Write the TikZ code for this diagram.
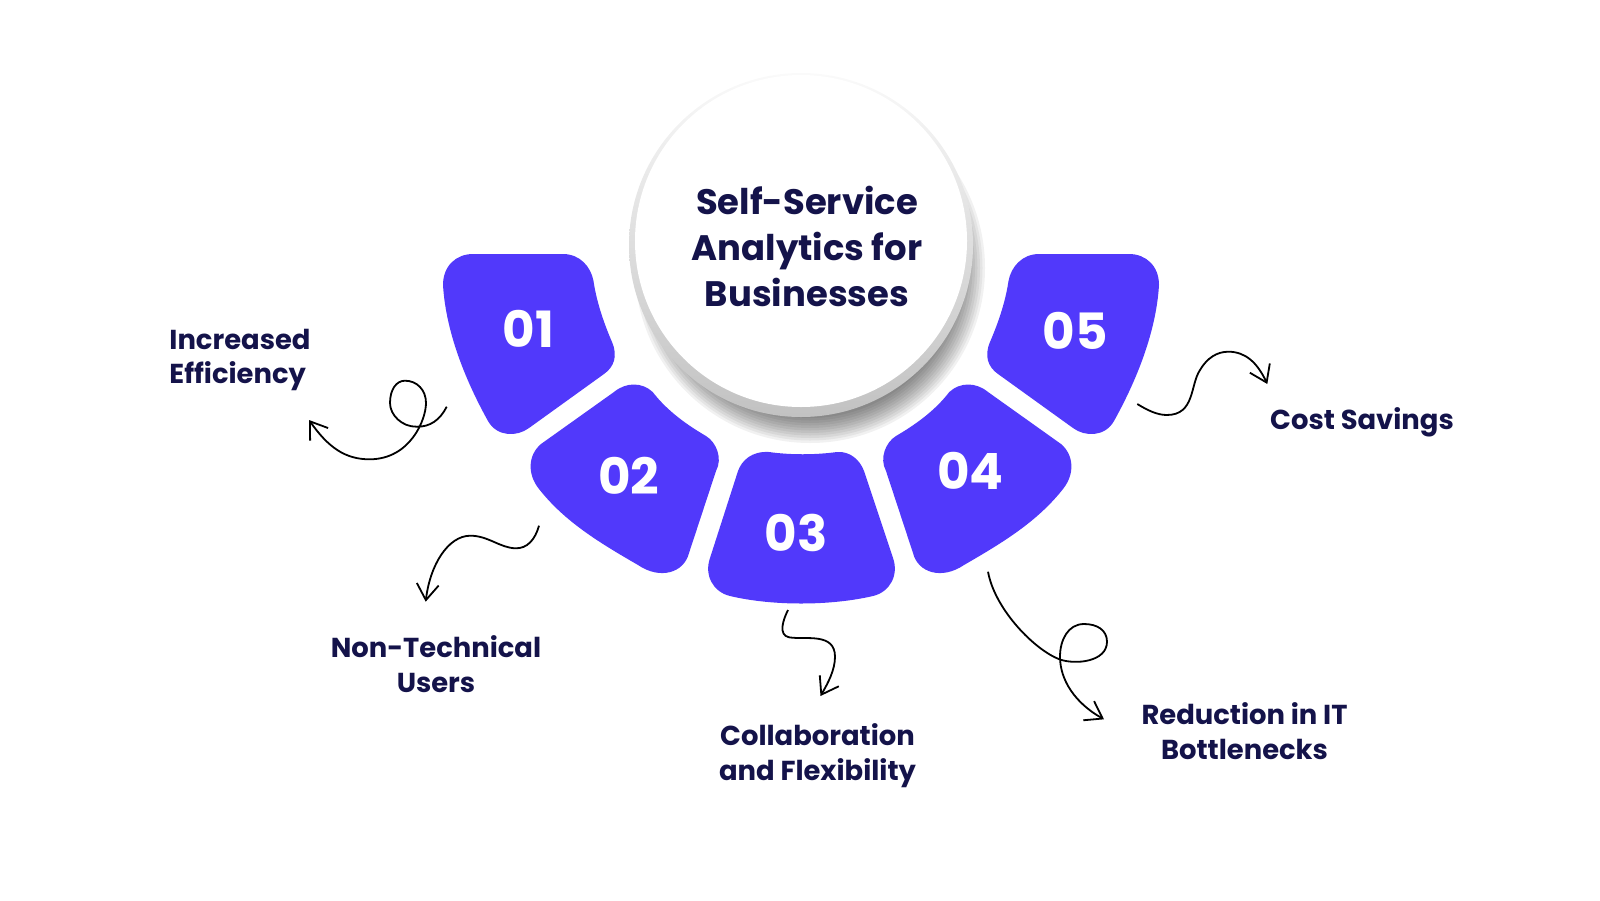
\documentclass[tikz,border=0pt]{standalone}
\usepackage{fontspec}
\setmainfont{Poppins}
\usepackage{xcolor}
\usetikzlibrary{arrows.meta}
\definecolor{blobblue}{HTML}{5139FB}
\definecolor{navy}{HTML}{14134A}
\tikzset{
	blob/.style={fill=blobblue},
	numlabel/.style={text=white,font=\fontsize{25}{30}\selectfont\bfseries,inner sep=0pt},
	hubtitle/.style={text=navy,font=\fontsize{17.7}{23}\selectfont\bfseries,align=center,inner sep=0pt},
	sidelabel/.style={text=navy,font=\fontsize{13.7}{17.4}\selectfont\bfseries,inner sep=0pt},
	scribble/.style={draw=black,line width=0.9pt,-{Straight Barb[length=8pt,width=11pt]}}
}
\newcommand{\blobone}{(443,285) .. controls (443,266) and (456,254) .. (473,254)
	-- (563,254) .. controls (580,254) and (591,267) .. (593.5,281)
	.. controls (597,305) and (606,328) .. (612,342)
	.. controls (618,356) and (614,367) .. (604,374)
	-- (529,428) .. controls (517,437) and (497,437) .. (488,421)
	.. controls (468,385) and (446,335) .. (443,285) -- cycle}
\newcommand{\blobtwo}{(614,392) .. controls (626,382) and (642,382) .. (652.7,392)
	.. controls (665,408) and (682,422) .. (706,436)
	.. controls (716,442) and (723,458) .. (716,471)
	-- (689,553) .. controls (684,573) and (660,580) .. (638,565)
	.. controls (600,543) and (565,522) .. (539,489)
	.. controls (527,474) and (528,455) .. (541,444) -- cycle}
\begin{document}
\begin{tikzpicture}[x=0.5pt,y=-0.5pt]
	\useasboundingbox (0,0) rectangle (1600,900);
	% soft shadow under the hub
	\foreach \r in {150,152.5,...,175}
		\fill[black,opacity=0.055] (810,268) circle (\r);
	\shade[top color=black!2,bottom color=black!24] (801,245) circle (172);
	\fill[white] (801,241) circle (166);
	\node[hubtitle] (title) at (807,246) {Self-Service\\Analytics for\\Businesses};

	\fill[blob] \blobone;
	\fill[blob] \blobtwo;
	\fill[blob] (769,452) .. controls (790,455) and (815,455) .. (837,452)
		.. controls (850,451) and (860,460) .. (864,471)
		-- (893,558) .. controls (899,575) and (890,592) .. (873,596)
		.. controls (830,606) and (772,606) .. (730,596)
		.. controls (713,592) and (704,575) .. (710,558)
		-- (738,471) .. controls (742,460) and (752,451) .. (769,452) -- cycle;
	\begin{scope}[shift={(1602,0)},xscale=-1]
		\fill[blob] \blobtwo;
		\fill[blob] \blobone;
	\end{scope}

	\node[numlabel] (n1) at (528.6,328.6) {01};
	\node[numlabel] (n2) at (628.6,475.5) {02};
	\node[numlabel] (n3) at (796,532.7) {03};
	\node[numlabel] (n4) at (970.4,470.4) {04};
	\node[numlabel] (n5) at (1075.5,330.6) {05};

	\node[sidelabel,align=left] (l1) at (240,360) {Increased\\Efficiency};
	\node[sidelabel,align=center] (l2) at (436,664) {Non-Technical\\Users};
	\node[sidelabel,align=center] (l3) at (817.5,756) {Collaboration\\and Flexibility};
	\node[sidelabel,align=center] (l4) at (1244.5,731.5) {Reduction in IT\\Bottlenecks};
	\node[sidelabel] (l5) at (1362,422.5) {Cost Savings};

	% free ends of the hand drawn arrows
	\coordinate (s1) at (446.7,406.7);
	\coordinate (e1) at (309,420);
	\coordinate (s2) at (539,525.7);
	\coordinate (e2) at (425.7,601.7);
	\coordinate (s3) at (788,610);
	\coordinate (e3) at (820.5,696);
	\coordinate (s4) at (988,571.7);
	\coordinate (e4) at (1104,719.3);
	\coordinate (s5) at (1137.3,404);
	\coordinate (e5) at (1267.3,384);

	\draw[scribble] (s1) .. controls (440,420) and (430,427) .. (416.7,426.7)
		.. controls (402,427) and (390,415) .. (390,403)
		.. controls (390,390) and (396,380.7) .. (405,380.7)
		.. controls (417,380.7) and (426,390) .. (426,403)
		.. controls (426,420) and (410,459) .. (370,459.3)
		.. controls (345,459.5) and (328,447) .. (e1);
	\draw[scribble] (s2) .. controls (535,540) and (527,548.5) .. (515.7,548.3)
		.. controls (500,548) and (488,535.5) .. (470,535.7)
		.. controls (448,536) and (430,565) .. (e2);
	\draw[scribble] (s3) .. controls (783,620) and (778,635) .. (789,637.3)
		.. controls (805,640) and (835,632) .. (835,656.7)
		.. controls (835,670) and (828,683) .. (e3);
	\draw[scribble] (s4) .. controls (995,610) and (1035,650) .. (1059.4,659.3)
		.. controls (1075,665) and (1107,662) .. (1107,641.7)
		.. controls (1107,630) and (1097,624) .. (1084,624)
		.. controls (1068,624) and (1060,640) .. (1060,656.7)
		.. controls (1060,680) and (1075,703) .. (e4);
	\draw[scribble] (s5) .. controls (1147,410) and (1157,415) .. (1166.7,415)
		.. controls (1195,415) and (1190,385) .. (1200,370)
		.. controls (1207,358) and (1217,351.7) .. (1228.3,351.7)
		.. controls (1245,351.7) and (1257,362) .. (e5);
\end{tikzpicture}
\end{document}
